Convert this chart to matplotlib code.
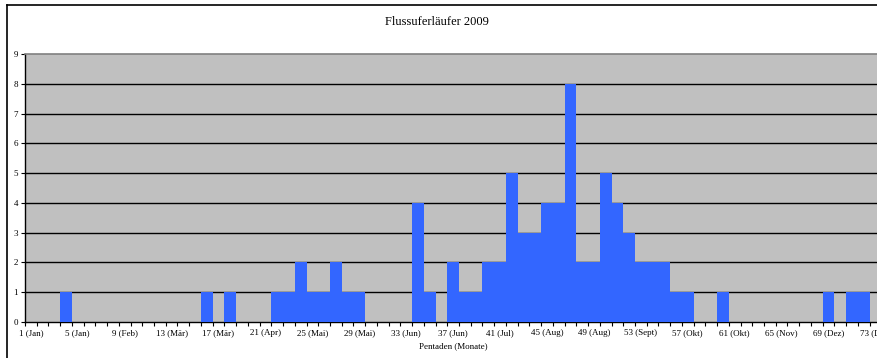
import matplotlib.pyplot as plt
from matplotlib.lines import Line2D

# Pentaden 1..73, Anzahl Beobachtungen
pentaden = list(range(1, 74))
anzahl = [0, 0, 0, 1, 0, 0, 0, 0, 0, 0,
          0, 0, 0, 0, 0, 1, 0, 1, 0, 0,
          0, 1, 1, 2, 1, 1, 2, 1, 1, 0,
          0, 0, 0, 4, 1, 0, 2, 1, 1, 2,
          2, 5, 3, 3, 4, 4, 8, 2, 2, 5,
          4, 3, 2, 2, 2, 1, 1, 0, 0, 1,
          0, 0, 0, 0, 0, 0, 0, 0, 1, 0,
          1, 1, 0]
label_pos = list(range(1, 74, 4))
label_txt = ['1 (Jan)', '5 (Jan)', '9 (Feb)', '13 (Mär)', '17 (Mär)', '21 (Apr)',
             '25 (Mai)', '29 (Mai)', '33 (Jun)', '37 (Jun)', '41 (Jul)', '45 (Aug)',
             '49 (Aug)', '53 (Sept)', '57 (Okt)', '61 (Okt)', '65 (Nov)', '69 (Dez)',
             '73 (Dez)']

plt.rcParams['font.family'] = ['Liberation Serif', 'DejaVu Serif']

W, H = 877, 358
fig = plt.figure(figsize=(W / 100, H / 100), dpi=100)
ax = fig.add_axes([25 / W, 1 - 322 / H, 856.3 / W, 268 / H])

ax.set_facecolor('#C0C0C0')
ax.bar(pentaden, anzahl, width=1.0, color='#3366FF', zorder=3)

# horizontal grid lines
for yv in range(1, 9):
    ax.axhline(yv, color='black', linewidth=1.0, zorder=2)

ax.set_xlim(0.5, 73.5)
ax.set_ylim(0, 9)

# tick marks at category boundaries, labels every 4th pentade
ax.set_xticks([p - 0.5 for p in pentaden] + [73.5])
ax.set_xticklabels([])
ax.set_xticks(label_pos, minor=True)
ax.set_xticklabels(label_txt, minor=True, fontsize=6.5)
ax.tick_params(axis='x', which='major', direction='out', length=3, width=0.8)
ax.tick_params(axis='x', which='minor', length=0, pad=5)
ax.set_yticks(range(0, 10))
ax.tick_params(axis='y', direction='out', length=3, width=0.8, labelsize=6.5, pad=2)

for s in ['left', 'bottom']:
    ax.spines[s].set_color('black')
    ax.spines[s].set_linewidth(1.0)
ax.spines['top'].set_color('#808080')
ax.spines['top'].set_linewidth(1.2)
ax.spines['right'].set_visible(False)

ax.set_xlabel('Pentaden (Monate)', fontsize=6.5, labelpad=4)
fig.text(437 / W, 1 - 22 / H, 'Flussuferläufer 2009', ha='center', va='center', fontsize=9)

# chart frame (only left and top edges visible)
fig.add_artist(Line2D([6.5 / W, 6.5 / W], [0, 1 - 4.5 / H], color='black', linewidth=1.2,
                      transform=fig.transFigure))
fig.add_artist(Line2D([6.5 / W, 1], [1 - 4.5 / H, 1 - 4.5 / H], color='black', linewidth=1.2,
                      transform=fig.transFigure))

fig.savefig('out.png', dpi=100)
